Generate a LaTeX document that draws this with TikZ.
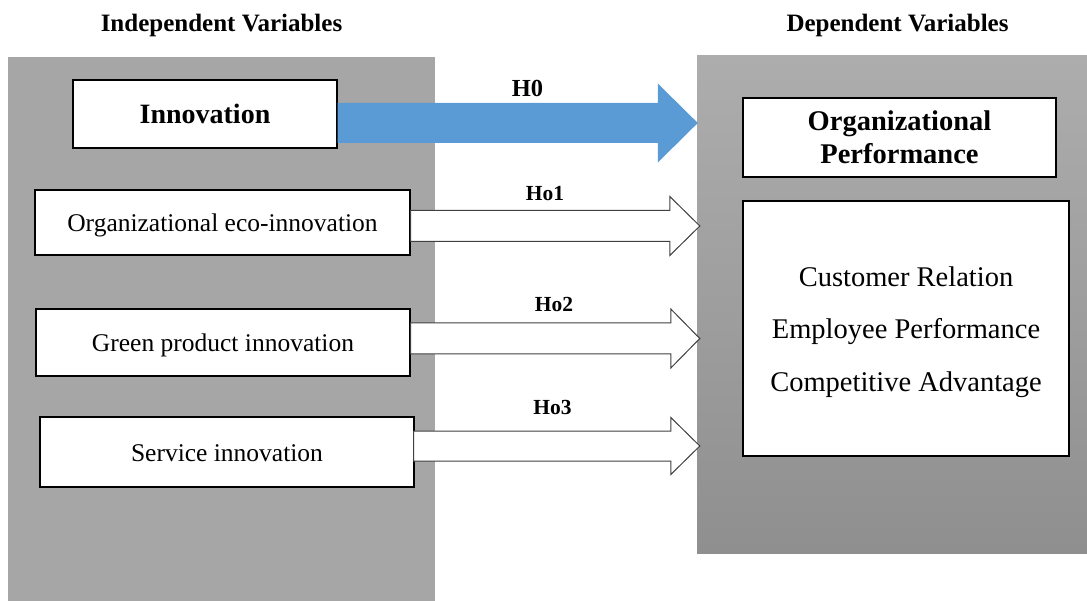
\documentclass[tikz,border=0pt]{standalone}
\usepackage{fontspec}
\setmainfont{Liberation Serif}
\usetikzlibrary{calc}

\definecolor{panelgray}{HTML}{A6A6A6}
\definecolor{shadetop}{HTML}{ADADAD}
\definecolor{shadebottom}{HTML}{8F8F8F}
\definecolor{hypblue}{HTML}{5B9BD5}
\definecolor{outlinegray}{HTML}{404040}

% block arrow from a start point to the x of a tip point
% #1 style, #2 start, #3 tip, #4 shaft half width, #5 head half width, #6 head length
\newcommand\hyparrow[6]{%
  \path[#1] let \p1=#2, \p2=#3 in
    (\x1,\y1+#4) -- (\x2-#6,\y1+#4) -- (\x2-#6,\y1+#5) -- (\x2,\y1)
    -- (\x2-#6,\y1-#5) -- (\x2-#6,\y1-#4) -- (\x1,\y1-#4) -- cycle;}

\tikzset{
  varbox/.style={draw=black, line width=1.1pt, fill=white, inner sep=0pt,
    text depth=0pt, text height=18.6pt, font=\fontsize{25.5}{30}\selectfont},
  headbox/.style={draw=black, line width=1.1pt, fill=white, inner sep=0pt,
    align=center, font=\fontsize{28.5}{33}\selectfont\bfseries},
  title/.style={anchor=base, inner sep=0pt, font=\fontsize{25}{30}\selectfont\bfseries},
  hyplabel/.style={anchor=base, inner sep=0pt, font=\fontsize{21.5}{26}\selectfont\bfseries},
  hollowarrow/.style={draw=outlinegray, line width=1pt, fill=white, line join=miter},
  solidarrow/.style={fill=hypblue},
}

\begin{document}
\begin{tikzpicture}[x=1pt, y=-1pt]
\useasboundingbox (0,0) rectangle (1087,601);

% column titles
\node[title] (indeptitle) at (221.5,32) {Independent Variables};
\node[title] (deptitle) at (897.5,32) {Dependent Variables};

% background panels
\node[fill=panelgray, draw=none, inner sep=0pt, minimum width=427pt, minimum height=544pt]
  (indep) at (221.5,329) {};
\node[top color=shadetop, bottom color=shadebottom, draw=none, inner sep=0pt,
  minimum width=390pt, minimum height=497pt] (dep) at (892,304.5) {};

% independent variables
\node[varbox, minimum width=264pt, minimum height=68pt, font=\fontsize{28}{32}\selectfont\bfseries]
  (innov) at (205,114) {Innovation};
\node[varbox, minimum width=375pt, minimum height=65pt] (eco) at (222.5,222.5) {Organizational eco-innovation};
\node[varbox, minimum width=374pt, minimum height=67pt] (green) at (223,342.5) {Green product innovation};
\node[varbox, minimum width=374pt, minimum height=70pt] (service) at (227,452) {Service innovation};

% dependent variables
\node[headbox, minimum width=313pt, minimum height=79pt] (perf) at (899.5,137.5)
  {Organizational\\Performance};
\node[draw=black, line width=1.1pt, fill=white, inner sep=0pt,
  minimum width=326pt, minimum height=255pt] (measures) at (906,328.5) {};
% the base anchor of a multi-line node sits on its last line
\node[anchor=base, inner sep=0pt, align=center, font=\fontsize{28.5}{52.5}\selectfont]
  (measurestxt) at ($(measures.north)+(0,191)$)
  {Customer Relation\\Employee Performance\\Competitive Advantage};

% hypothesis arrows
\hyparrow{solidarrow}{($(innov.east)+(0,9)$)}{($(dep.west)+(1,0)$)}{20}{39.5}{40}
\hyparrow{hollowarrow}{($(eco.east)+(0,3.5)$)}{($(dep.west)+(3,0)$)}{15.5}{29.5}{30}
\hyparrow{hollowarrow}{($(green.east)+(0,-4)$)}{($(dep.west)+(3,0)$)}{15.5}{29.5}{29}
\hyparrow{hollowarrow}{($(service.east)+(-1,-6)$)}{($(dep.west)+(3,0)$)}{15}{28.5}{29}

% hypothesis labels
\node[hyplabel, font=\fontsize{24.5}{28}\selectfont\bfseries] (h0) at (527.5,97) {H0};
\node[hyplabel] (ho1) at (545,201) {Ho1};
\node[hyplabel] (ho2) at (554,312) {Ho2};
\node[hyplabel] (ho3) at (552.5,414) {Ho3};
\end{tikzpicture}
\end{document}
